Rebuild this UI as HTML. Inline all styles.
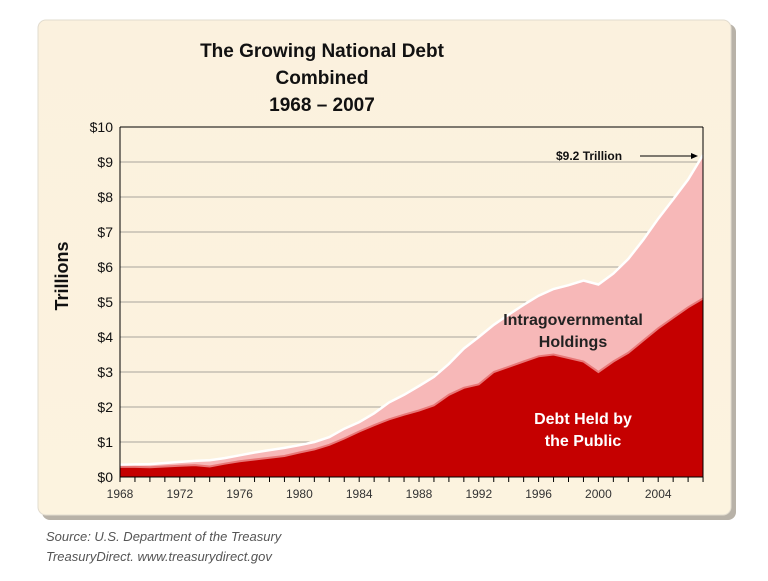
<!DOCTYPE html>
<html><head><meta charset="utf-8"><style>
body{margin:0;width:768px;height:576px;background:#fff;overflow:hidden;font-family:"Liberation Sans",sans-serif}
</style></head><body>
<svg width="768" height="576" xmlns="http://www.w3.org/2000/svg" id="s">
<defs>
<linearGradient id="bg" x1="0" y1="0" x2="0" y2="1"><stop offset="0" stop-color="#fbf1de"/><stop offset="1" stop-color="#fcf3df"/></linearGradient>
</defs>
<rect x="42" y="24" width="694" height="496" rx="8" fill="#b8b2a8"/>
<rect x="38" y="20" width="693" height="495" rx="8" fill="url(#bg)" stroke="#e2dccf"/>
<g font-weight="bold" font-size="19" text-anchor="middle" fill="#111">
<text x="322" y="57">The Growing National Debt</text>
<text x="322" y="84">Combined</text>
<text x="322" y="111">1968 – 2007</text>
</g>
<text transform="translate(68,276) rotate(-90)" text-anchor="middle" font-weight="bold" font-size="18" fill="#111">Trillions</text>
<g id="grid"></g>
<g id="areas"></g>
<line x1="120" y1="127" x2="120" y2="477" stroke="#000"/>
<line x1="120" y1="127" x2="703" y2="127" stroke="#000"/>
<line x1="703" y1="127" x2="703" y2="477" stroke="#000"/>
<line x1="120" y1="477" x2="703" y2="477" stroke="#000"/>
<g id="ticks"></g>
<text x="556" y="160" font-size="12" font-weight="bold" fill="#111">$9.2 Trillion</text>
<line x1="640" y1="156" x2="694" y2="156" stroke="#000"/>
<polygon points="698,156 691,153 691,159" fill="#000"/>
<g font-weight="bold" font-size="16" text-anchor="middle">
<text x="573" y="325" fill="#222">Intragovernmental</text>
<text x="573" y="347" fill="#222">Holdings</text>
<text x="583" y="424" fill="#fff">Debt Held by</text>
<text x="583" y="446" fill="#fff">the Public</text>
</g>
<g font-style="italic" font-size="13" fill="#555">
<text x="46" y="541">Source: U.S. Department of the Treasury</text>
<text x="46" y="561">TreasuryDirect. www.treasurydirect.gov</text>
</g>
</svg>
<script>
var NS="http://www.w3.org/2000/svg";
function el(p,t,a,txt){var e=document.createElementNS(NS,t);for(var k in a)e.setAttribute(k,a[k]);if(txt!=null)e.textContent=txt;document.getElementById(p).appendChild(e);return e;}
var X=function(y){return 120+(y-1968)*14.95},Y=function(v){return 477-v*35};
for(var i=0;i<=10;i++){var y=Y(i);if(i>0&&i<10)el('grid','line',{x1:120,x2:703,y1:y,y2:y,stroke:'#a9a49c'});
el('ticks','text',{x:113,y:y+5,'text-anchor':'end','font-size':14,fill:'#111'},'$'+i);}
for(var yr=1968;yr<=2007;yr++){var x=X(yr);el('ticks','line',{x1:x,x2:x,y1:477,y2:482,stroke:'#000'});
if((yr-1968)%4==0)el('ticks','text',{x:x,y:498,'text-anchor':'middle','font-size':12,fill:'#333'},yr);}
var T=[.35,.36,.37,.4,.43,.46,.48,.54,.62,.7,.77,.83,.91,1.0,1.14,1.38,1.57,1.82,2.13,2.35,2.6,2.86,3.23,3.67,4.0,4.35,4.64,4.92,5.18,5.37,5.48,5.61,5.5,5.81,6.23,6.78,7.38,7.93,8.5,9.2];
var P=[.29,.29,.28,.3,.32,.34,.3,.38,.45,.5,.55,.6,.7,.79,.92,1.1,1.3,1.48,1.65,1.78,1.9,2.05,2.35,2.55,2.65,3.0,3.15,3.3,3.45,3.5,3.4,3.3,3.0,3.3,3.55,3.9,4.25,4.55,4.85,5.1];
function pts(a){return a.map(function(v,i){return X(1968+i).toFixed(1)+','+Y(v).toFixed(1)}).join(' ');}
var tp=pts(T),pp=pts(P);
el('areas','polygon',{points:'120,477 '+tp+' 703,477',fill:'#f7b8b8'});
el('areas','polyline',{points:tp,fill:'none',stroke:'#fff','stroke-width':2.5});
el('areas','polygon',{points:'120,477 '+pp+' 703,477',fill:'#c50000'});
el('areas','polyline',{points:pp,fill:'none',stroke:'#e87878','stroke-width':2});
</script>
</body></html>
